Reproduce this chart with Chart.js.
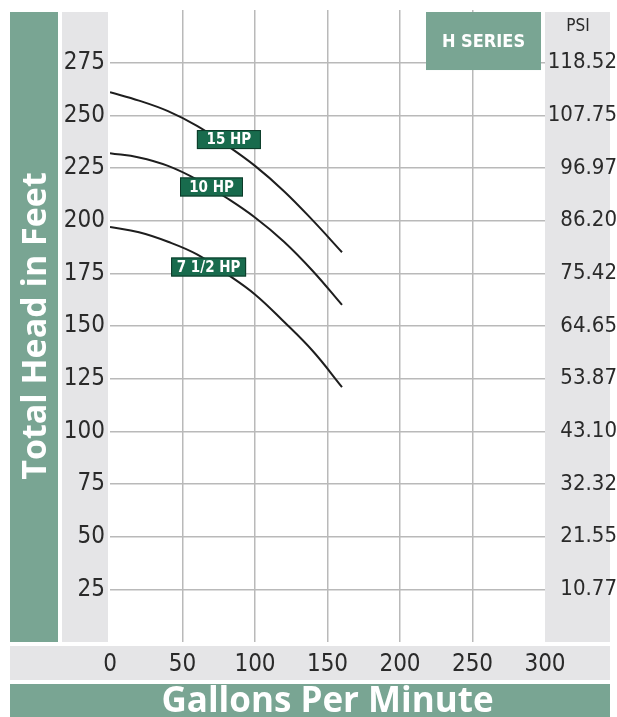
<!DOCTYPE html>
<html><head><meta charset="utf-8">
<script src="https://cdn.jsdelivr.net/npm/chart.js@4"></script>
<style>html,body{margin:0;padding:0;background:#fff;overflow:hidden}canvas{display:block}</style>
</head><body>
<canvas id="c" width="617" height="717"></canvas>
<script>
// ---- data ----
const gpm = [0, 20, 40, 60, 80, 100, 120, 140, 160];
const head15 = [261, 257, 252, 245, 236, 226, 214, 200, 185];
const head10 = [232, 230, 226, 219.5, 211, 201.5, 190, 176, 160];
const head75 = [197, 194.5, 190, 184, 175, 165, 152, 138, 121];
const seriesNames = ['15 HP', '10 HP', '7 1/2 HP'];
const feetTicks = [25, 50, 75, 100, 125, 150, 175, 200, 225, 250, 275];
const psiTicks = ['10.77', '21.55', '32.32', '43.10', '53.87', '64.65', '75.42', '86.20', '96.97', '107.75', '118.52'];
const gpmTicks = [0, 50, 100, 150, 200, 250, 300];

const SAGE = '#79a593';
const DARK = '#186b4d';
const GREY = '#e5e5e7';
const GRID = '#b9b9b9';
const TXT = '#2a2a2a';
const NARROW = '"Liberation Sans Narrow","DejaVu Sans Condensed","Roboto Condensed",Roboto,sans-serif';
const ROUND = '"Open Sans",Lato,sans-serif';

const toPts = arr => gpm.map((x, i) => ({x, y: arr[i]}));

const bgPlugin = {
  id: 'bg',
  beforeDraw(chart) {
    const {ctx, chartArea: ca, width, height} = chart;
    ctx.save();
    ctx.fillStyle = '#fff';
    ctx.fillRect(0, 0, width, height);
    const top = ca.top + 2;
    ctx.fillStyle = SAGE;
    ctx.fillRect(10, top, 48, ca.bottom - top);
    ctx.fillRect(10, ca.bottom + 42, width - 17, height - ca.bottom - 42);
    ctx.fillStyle = GREY;
    ctx.fillRect(62, top, ca.left - 64, ca.bottom - top);
    ctx.fillRect(ca.right, top, width - 7 - ca.right, ca.bottom - top);
    ctx.fillRect(10, ca.bottom + 4, width - 17, 34);
    ctx.restore();
  }
};

const labelPlugin = {
  id: 'labels',
  afterDatasetsDraw(chart) {
    const {ctx, chartArea: ca, scales: {x, y}} = chart;
    ctx.save();
    // HP tags anchored in data space
    const anchors = [[82, 238.5], [70, 216], [68, 178]];
    const widths = [64, 63, 75];
    seriesNames.forEach((name, i) => {
      const cx = x.getPixelForValue(anchors[i][0]);
      const cy = y.getPixelForValue(anchors[i][1]);
      const w = widths[i], h = 19;
      ctx.fillStyle = DARK;
      ctx.fillRect(cx - w / 2, cy - h / 2, w, h);
      ctx.strokeStyle = '#0d3a29';
      ctx.lineWidth = 1;
      ctx.strokeRect(cx - w / 2 + 0.5, cy - h / 2 + 0.5, w - 1, h - 1);
      ctx.fillStyle = '#fff';
      ctx.font = 'bold 15px ' + NARROW;
      ctx.textAlign = 'center';
      ctx.textBaseline = 'middle';
      ctx.fillText(name, cx, cy + 1);
    });
    // H SERIES box
    const bx0 = 426, bx1 = ca.right - 4, by0 = ca.top + 2, by1 = y.getPixelForValue(271.5);
    ctx.fillStyle = SAGE;
    ctx.fillRect(bx0, by0, bx1 - bx0, by1 - by0);
    ctx.fillStyle = '#fff';
    ctx.font = 'bold 18px ' + NARROW;
    ctx.textAlign = 'center';
    ctx.textBaseline = 'middle';
    ctx.fillText('H SERIES', (bx0 + bx1) / 2, (by0 + by1) / 2 + 1);
    // PSI label
    ctx.fillStyle = TXT;
    ctx.font = '17px ' + NARROW;
    ctx.fillText('PSI', 578, ca.top + 17);
    ctx.restore();
  }
};

const hideEdges = c => (c.tick.value === 0 || c.tick.value === 300) ? 'rgba(0,0,0,0)' : GRID;
const noVPad = s => { s.paddingTop = 0; s.paddingBottom = 0; };

new Chart(document.getElementById('c'), {
  type: 'line',
  data: {
    datasets: [
      {label: seriesNames[0], data: toPts(head15)},
      {label: seriesNames[1], data: toPts(head10)},
      {label: seriesNames[2], data: toPts(head75)}
    ].map(d => Object.assign(d, {borderColor: '#1e1e1e', borderWidth: 2, pointRadius: 0, tension: 0.4, fill: false}))
  },
  options: {
    responsive: false,
    animation: false,
    layout: {padding: {top: 10, left: 0, right: 0, bottom: 0}},
    plugins: {legend: {display: false}, tooltip: {enabled: false}},
    scales: {
      x: {
        type: 'linear', min: 0, max: 300,
        afterBuildTicks: s => { s.ticks = gpmTicks.map(v => ({value: v})); },
        afterFit: s => { s.height = 75; s.paddingLeft = 0; s.paddingRight = 0; },
        grid: {color: hideEdges, lineWidth: 1.5, drawTicks: false},
        border: {display: false},
        ticks: {color: TXT, padding: 8, font: {family: NARROW, size: 24}, maxRotation: 0, autoSkip: false},
        title: {display: true, text: 'Gallons Per Minute', color: '#fff', padding: {top: 0, bottom: -3},
                font: {family: ROUND, size: 35, weight: 'bold', lineHeight: 1}}
      },
      y: {
        type: 'linear', position: 'left', min: 0, max: 300,
        afterBuildTicks: s => { s.ticks = [0].concat(feetTicks, [300]).map(v => ({value: v})); },
        afterFit: s => { s.width = 110; noVPad(s); },
        grid: {color: hideEdges, lineWidth: 1.5, drawTicks: false},
        border: {display: false},
        ticks: {color: TXT, padding: 5, font: {family: NARROW, size: 24},
                callback: v => feetTicks.includes(v) ? String(v) : ''},
        title: {display: true, text: 'Total Head in Feet', color: '#fff', padding: {top: 19, bottom: 0},
                font: {family: ROUND, size: 34, weight: 'bold', lineHeight: 1}}
      },
      y2: {
        type: 'linear', position: 'right', min: 0, max: 300,
        afterBuildTicks: s => { s.ticks = [0].concat(feetTicks, [300]).map(v => ({value: v})); },
        afterFit: s => { s.width = 72; noVPad(s); },
        grid: {drawOnChartArea: false, drawTicks: false},
        border: {display: false},
        ticks: {color: TXT, padding: -1, crossAlign: 'far', font: {family: NARROW, size: 22},
                callback: v => { const i = feetTicks.indexOf(v); return i >= 0 ? psiTicks[i] : ''; }}
      }
    }
  },
  plugins: [bgPlugin, labelPlugin]
});
</script>
</body></html>
